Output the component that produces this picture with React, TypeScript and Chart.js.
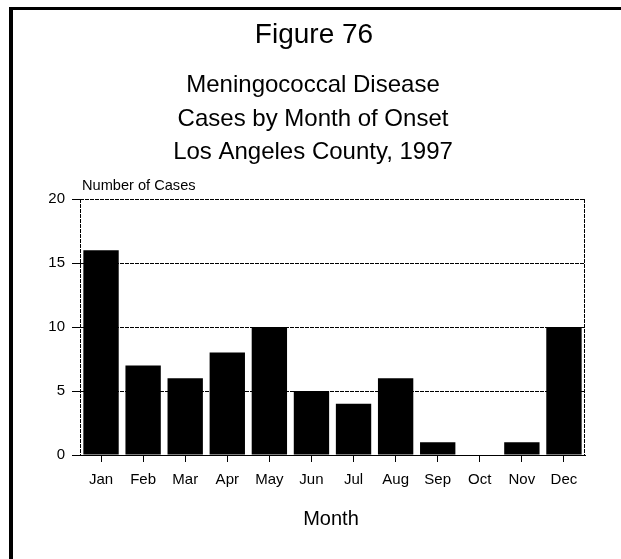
import React, { useEffect, useRef } from "react";
import { Chart, registerables } from "chart.js";

Chart.register(...registerables);

const months = ["Jan", "Feb", "Mar", "Apr", "May", "Jun", "Jul", "Aug", "Sep", "Oct", "Nov", "Dec"];
const cases = [16, 7, 6, 8, 10, 5, 4, 6, 1, 0, 1, 10];
const figureTitle = "Figure 76";
const titleLines = ["Meningococcal Disease", "Cases by Month of Onset", "Los Angeles County, 1997"];
const yAxisLabel = "Number of Cases";
const xAxisLabel = "Month";

const FONT = "'Liberation Sans', Arial, Helvetica, sans-serif";

const decorPlugin = {
  id: "decor",
  afterDraw(chart: any) {
    const ctx = chart.ctx;
    const { left, right, top, bottom } = chart.chartArea;
    ctx.save();
    // page frame (left + top)
    ctx.fillStyle = "#000";
    ctx.fillRect(9, 7, 4, 552);
    ctx.fillRect(9, 7, 612, 3);
    // plot frame sides dashed
    ctx.strokeStyle = "#000";
    ctx.lineWidth = 1;
    ctx.setLineDash([4, 1]);
    ctx.beginPath();
    ctx.moveTo(left + 0.5, top);
    ctx.lineTo(left + 0.5, bottom);
    ctx.moveTo(right - 0.5, top);
    ctx.lineTo(right - 0.5, bottom);
    ctx.stroke();
    ctx.setLineDash([]);
    // titles
    ctx.fillStyle = "#000";
    ctx.textAlign = "center";
    ctx.textBaseline = "alphabetic";
    ctx.font = `28px ${FONT}`;
    ctx.fillText(figureTitle, 314, 43);
    ctx.font = `24px ${FONT}`;
    const baselines = [92, 126, 159];
    titleLines.forEach((t, i) => ctx.fillText(t, 313, baselines[i]));
    ctx.textAlign = "left";
    ctx.font = `14.6px ${FONT}`;
    ctx.fillText(yAxisLabel, 82, 190);
    ctx.textAlign = "center";
    ctx.font = `20px ${FONT}`;
    ctx.fillText(xAxisLabel, 331, 525);
    ctx.restore();
  },
};

export default function App() {
  const ref = useRef<HTMLCanvasElement>(null);
  useEffect(() => {
    if (!ref.current) return;
    const chart = new Chart(ref.current, {
      type: "bar",
      data: {
        labels: months,
        datasets: [
          {
            data: cases,
            backgroundColor: "#000",
            borderWidth: 0,
            barPercentage: 0.84,
            categoryPercentage: 1,
          },
        ],
      },
      options: {
        responsive: false,
        animation: false,
        events: [],
        layout: { padding: { left: 0, top: 199, right: 36, bottom: 0 } },
        plugins: { legend: { display: false }, title: { display: false }, tooltip: { enabled: false } },
        scales: {
          x: {
            offset: true,
            grid: { display: true, drawOnChartArea: false, offset: false, tickLength: 7, color: "#000" },
            border: { display: true, color: "#000", dash: [4, 1] },
            ticks: { color: "#000", font: { family: FONT, size: 15 }, padding: 9, maxRotation: 0 },
            afterFit: (s: any) => {
              s.height = 104;
            },
          },
          y: {
            min: 0,
            max: 20,
            ticks: { stepSize: 5, color: "#000", font: { family: FONT, size: 15 }, padding: 7 },
            grid: { color: "#000", tickLength: 8 },
            border: { display: false, dash: [4, 1] },
            afterFit: (s: any) => {
              s.width = 80;
            },
          },
        },
      },
      plugins: [decorPlugin],
    });
    return () => chart.destroy();
  }, []);
  return (
    <div style={{ position: "fixed", left: 0, top: 0, width: 621, height: 559, background: "#fff" }}>
      <canvas ref={ref} width={621} height={559} style={{ display: "block" }} />
    </div>
  );
}
